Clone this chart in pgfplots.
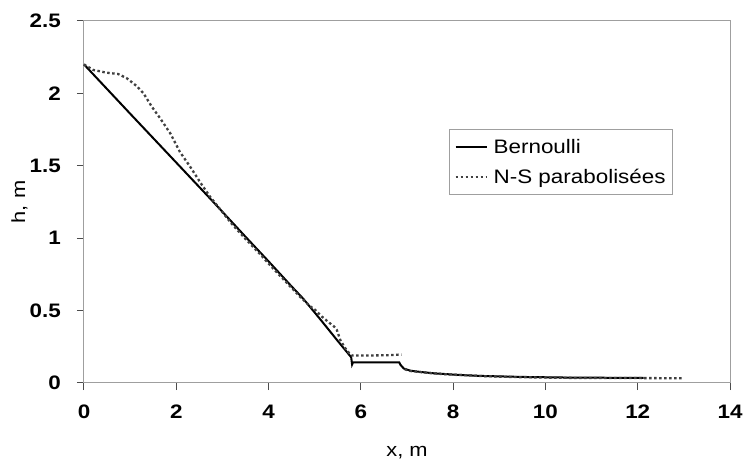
\documentclass[border=0pt]{standalone}
\usepackage{fontspec}
\setmainfont[FakeStretch=1.15]{Liberation Sans}
\usepackage{pgfplots}
\pgfplotsset{compat=1.18}
\begin{document}
\begin{tikzpicture}
\begin{axis}[name=ax, scale only axis, width=646pt, height=362pt,
 xmin=0, xmax=14, ymin=0, ymax=2.5,
 xtick={0,2,...,14}, ytick={0,0.5,1,1.5,2,2.5},
 tick align=outside, tick pos=left, major tick length=7pt,
 axis line style={gray!75, line width=1pt},
 tick style={black!70, line width=1pt},
 /pgf/number format/assume math mode=true,
 ticklabel style={font=\fontsize{19.5}{22}\selectfont\bfseries, inner sep=0pt},
 xticklabel style={anchor=base, yshift=-28pt},
 yticklabel style={anchor=east, xshift=-16pt},
 every axis x label/.style={at={(rel axis cs:0.5,-0.2017)}, anchor=base, font=\fontsize{19}{22}\selectfont},
 every axis y label/.style={at={(rel axis cs:-0.0913,0.5)}, anchor=base, rotate=90, font=\fontsize{19}{22}\selectfont},
 xlabel={x, m}, ylabel={h, m},
 legend cell align=left,
 legend image code/.code={\draw[#1] (0pt,0pt) -- (31pt,0pt);},
 legend style={at={(rel axis cs:0.912,0.702)}, anchor=north east, draw=gray!75, line width=1pt, fill=white,
   font=\fontsize{19.5}{22}\selectfont, inner xsep=5pt, inner ysep=8pt, nodes={inner sep=2pt}, row sep=10pt,
   /tikz/every odd column/.append style={column sep=4pt}},
 clip=false,
]
\addplot[black, line width=2pt] coordinates {
(0,2.2) (1,1.86) (2,1.522) (2.73,1.275) (3.5,1.01) (4.0,0.84) (4.47,0.677) (4.757,0.58)
(5.12,0.44) (5.5,0.29) (5.79,0.178) (5.81,0.128) (5.83,0.143) (6.83,0.143) (6.86,0.125)
(6.93,0.10) (7.07,0.085) (7.3,0.076) (7.58,0.067) (8.01,0.058) (8.59,0.049) (9.46,0.042)
(10.61,0.037) (11.5,0.036) (12.13,0.036)};
\addlegendentry{Bernoulli}
\addplot[black!75, line width=2.3pt, dash pattern=on 2.5pt off 2.5pt] coordinates {
(0,2.2) (0.2,2.162) (0.49,2.143) (0.74,2.134) (0.93,2.104) (1.14,2.051) (1.29,2.0)
(1.47,1.908) (1.65,1.828) (1.87,1.724) (2.08,1.595) (2.30,1.494) (2.52,1.385) (2.73,1.287)
(2.9,1.22) (3.2,1.10) (3.5,0.995) (3.8,0.895) (4.1,0.79) (4.4,0.69) (4.7,0.59) (4.9,0.53)
(5.01,0.505) (5.15,0.46) (5.3,0.42) (5.42,0.39) (5.48,0.366) (5.55,0.30) (5.65,0.245)
(5.75,0.205) (5.81,0.19) (6.2,0.19) (6.6,0.192) (6.88,0.197)};
\addlegendentry{N-S parabolisées}
\addplot[black!75, line width=2.3pt, dash pattern=on 2.5pt off 2.5pt, forget plot] coordinates {
(6.95,0.095) (7.07,0.083) (7.58,0.066) (8.01,0.057) (8.59,0.048) (9.46,0.040)
(10.61,0.035) (11.9,0.034) (13.0,0.033)};
\end{axis}
\pgfresetboundingbox
\path ([shift={(-84pt,-76pt)}]ax.south west) rectangle ([shift={(15pt,21pt)}]ax.north east);
\end{tikzpicture}
\end{document}
